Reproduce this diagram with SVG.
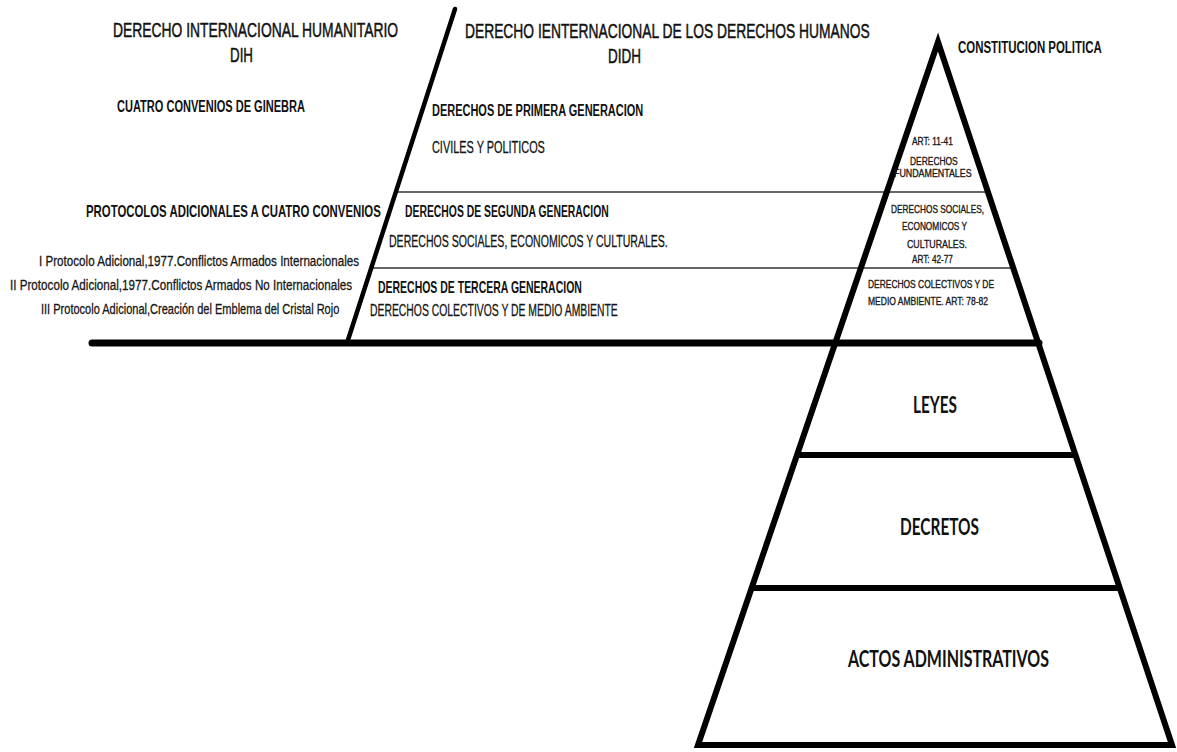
<svg xmlns="http://www.w3.org/2000/svg" width="1177" height="752" viewBox="0 0 1177 752">
<style>
.t{font-family:"Liberation Sans",Arial,sans-serif;fill:#111;}
.h{font-size:21px;stroke:#111;stroke-width:0.5;}
.b{font-size:17px;font-weight:bold;}
.n{font-size:16px;stroke:#222;stroke-width:0.3;}
.p{font-size:15px;stroke:#222;stroke-width:0.3;}
.s{font-size:11px;stroke:#222;stroke-width:0.35;}
.c{font-family:Lato,"Open Sans",sans-serif;font-weight:bold;font-size:22px;fill:#111;}
.thick{stroke:#000;stroke-width:6;fill:none;}
.thin{stroke:#333;stroke-width:1.6;fill:none;}
</style>
<rect width="1177" height="752" fill="#fff"/>
<g id="connectors">
<line class="thin" x1="395" y1="192" x2="989" y2="192"/>
<line class="thin" x1="371" y1="268" x2="1014" y2="268"/>
<line x1="455" y1="9" x2="347" y2="343" stroke="#000" stroke-width="4.5" stroke-linecap="round"/>
<line x1="92" y1="343" x2="1039" y2="343" stroke="#000" stroke-width="7" stroke-linecap="round"/>
<line class="thick" x1="797" y1="455" x2="1076" y2="455"/>
<line class="thick" x1="751" y1="588" x2="1120" y2="588"/>
</g>
<g id="pyramid">
<polygon class="thick" points="938,42 698,745 1172,745" stroke-linejoin="miter"/>
</g>
<g id="dih">
<text class="t h" transform="translate(113,37) scale(0.657,1)" textLength="434" lengthAdjust="spacingAndGlyphs">DERECHO INTERNACIONAL HUMANITARIO</text>
<text class="t h" transform="translate(230,62) scale(0.635,1)" textLength="36.2" lengthAdjust="spacingAndGlyphs">DIH</text>
<text class="t b" transform="translate(117,112) scale(0.646,1)" textLength="291" lengthAdjust="spacingAndGlyphs">CUATRO CONVENIOS DE GINEBRA</text>
</g>
<g id="protocolos">
<text class="t b" transform="translate(86,217) scale(0.664,1)" textLength="444" lengthAdjust="spacingAndGlyphs">PROTOCOLOS ADICIONALES A CUATRO CONVENIOS</text>
<text class="t p" transform="translate(39,266) scale(0.773,1)" textLength="414" lengthAdjust="spacingAndGlyphs">I Protocolo Adicional,1977.Conflictos Armados Internacionales</text>
<text class="t p" transform="translate(10,290) scale(0.774,1)" textLength="442" lengthAdjust="spacingAndGlyphs">II Protocolo Adicional,1977.Conflictos Armados No Internacionales</text>
<text class="t p" transform="translate(41,314) scale(0.733,1)" textLength="407" lengthAdjust="spacingAndGlyphs">III Protocolo Adicional,Creación del Emblema del Cristal Rojo</text>
</g>
<g id="didh">
<text class="t h" transform="translate(465,38) scale(0.657,1)" textLength="616" lengthAdjust="spacingAndGlyphs">DERECHO IENTERNACIONAL DE LOS DERECHOS HUMANOS</text>
<text class="t h" transform="translate(608,63) scale(0.643,1)" textLength="51.3" lengthAdjust="spacingAndGlyphs">DIDH</text>
</g>
<g id="primera">
<text class="t b" transform="translate(432,116) scale(0.644,1)" textLength="328" lengthAdjust="spacingAndGlyphs">DERECHOS DE PRIMERA GENERACION</text>
<text class="t n" transform="translate(432,153) scale(0.68,1)" textLength="166" lengthAdjust="spacingAndGlyphs">CIVILES Y POLITICOS</text>
</g>
<g id="segunda">
<text class="t b" transform="translate(405,217) scale(0.61,1)" textLength="334" lengthAdjust="spacingAndGlyphs">DERECHOS DE SEGUNDA GENERACION</text>
<text class="t n" transform="translate(389,247) scale(0.656,1)" textLength="425" lengthAdjust="spacingAndGlyphs">DERECHOS SOCIALES, ECONOMICOS Y CULTURALES.</text>
</g>
<g id="tercera">
<text class="t b" transform="translate(378,293) scale(0.615,1)" textLength="331.5" lengthAdjust="spacingAndGlyphs">DERECHOS DE TERCERA GENERACION</text>
<text class="t n" transform="translate(370,316) scale(0.647,1)" textLength="383" lengthAdjust="spacingAndGlyphs">DERECHOS COLECTIVOS Y DE MEDIO AMBIENTE</text>
</g>
<g id="constitucion">
<text class="t b" transform="translate(958,53) scale(0.675,1)" textLength="213" lengthAdjust="spacingAndGlyphs">CONSTITUCION POLITICA</text>
<text class="t s" transform="translate(912,145) scale(0.73,1)" textLength="56" lengthAdjust="spacingAndGlyphs">ART: 11-41</text>
<text class="t s" transform="translate(910,165) scale(0.77,1)" textLength="62" lengthAdjust="spacingAndGlyphs">DERECHOS</text>
<text class="t s" transform="translate(894,177) scale(0.80,1)" textLength="97" lengthAdjust="spacingAndGlyphs">FUNDAMENTALES</text>
</g>
<g id="constitucion-sociales">
<text class="t s" transform="translate(891,213) scale(0.75,1)" textLength="124" lengthAdjust="spacingAndGlyphs">DERECHOS SOCIALES,</text>
<text class="t s" transform="translate(902,230) scale(0.75,1)" textLength="86.7" lengthAdjust="spacingAndGlyphs">ECONOMICOS Y</text>
<text class="t s" transform="translate(907,248) scale(0.79,1)" textLength="76" lengthAdjust="spacingAndGlyphs">CULTURALES.</text>
<text class="t s" transform="translate(912,263) scale(0.73,1)" textLength="56" lengthAdjust="spacingAndGlyphs">ART: 42-77</text>
</g>
<g id="constitucion-colectivos">
<text class="t s" transform="translate(868,288) scale(0.76,1)" textLength="165.8" lengthAdjust="spacingAndGlyphs">DERECHOS COLECTIVOS Y DE</text>
<text class="t s" transform="translate(868,305) scale(0.76,1)" textLength="157.9" lengthAdjust="spacingAndGlyphs">MEDIO AMBIENTE. ART: 78-82</text>
</g>
<g id="leyes">
<text class="c" x="913" y="413" textLength="44" lengthAdjust="spacingAndGlyphs">LEYES</text>
</g>
<g id="decretos">
<text class="c" x="900" y="535" textLength="79" lengthAdjust="spacingAndGlyphs">DECRETOS</text>
</g>
<g id="actos">
<text class="c" x="848" y="667" textLength="201" lengthAdjust="spacingAndGlyphs">ACTOS ADMINISTRATIVOS</text>
</g>
</svg>
